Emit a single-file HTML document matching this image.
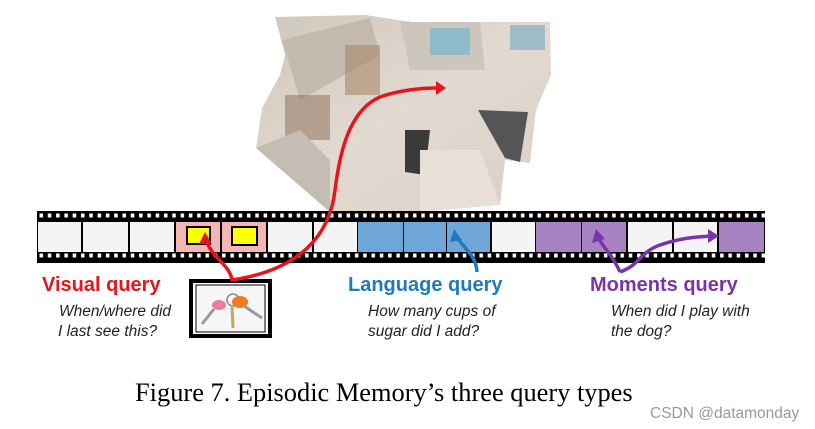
<!DOCTYPE html>
<html><head><meta charset="utf-8"><style>
html,body{margin:0;padding:0;background:#fff;width:815px;height:429px;overflow:hidden}
svg{display:block}
</style></head><body>
<svg width="815" height="429" viewBox="0 0 815 429" xmlns="http://www.w3.org/2000/svg">
<defs>
<pattern id="holes" x="37" y="0" width="8.3" height="10" patternUnits="userSpaceOnUse">
<rect x="2.5" y="3.5" width="3.5" height="4" fill="#fff"/>
</pattern>
<linearGradient id="hg" x1="0" y1="0" x2="1" y2="1">
<stop offset="0" stop-color="#cfc6bc"/><stop offset="0.5" stop-color="#e2dad0"/><stop offset="1" stop-color="#d9d0c6"/>
</linearGradient>
</defs>
<!-- house -->
<polygon points="275,17 365,15 412,22 550,22 551,75 536,110 530,163 505,160 500,205 470,205 420,212 330,212 256,148 262,108 280,75 285,55" fill="url(#hg)"/>
<polygon points="282,40 370,18 380,55 300,100" fill="#c4b9ae"/>
<polygon points="345,45 380,45 380,95 345,95" fill="#a8896a" opacity="0.6"/>
<polygon points="285,95 330,95 330,140 285,140" fill="#8a6a55" opacity="0.5"/>
<polygon points="400,22 480,22 485,70 410,70" fill="#cdc6bc"/>
<polygon points="430,28 470,28 470,55 430,55" fill="#8fbccb"/>
<polygon points="510,25 545,25 545,50 510,50" fill="#a0bcc8"/>
<polygon points="478,110 528,112 520,162 505,158" fill="#555557"/>
<polygon points="405,130 430,130 425,175 405,172" fill="#3a3a3a"/>
<polygon points="256,148 300,130 330,160 330,212" fill="#c4bdb4"/>
<polygon points="420,150 480,150 500,205 420,212" fill="#e8e0d6"/>
<!-- film strip -->
<rect x="37" y="211" width="728" height="52" fill="#000"/>
<rect x="37" y="211" width="728" height="11" fill="url(#holes)"/>
<rect x="37" y="252" width="728" height="11" fill="url(#holes)"/>
<g stroke="none">
<rect x="38" y="222" width="43" height="30" fill="#f4f4f4"/>
<rect x="83" y="222" width="45" height="30" fill="#f4f4f4"/>
<rect x="130" y="222" width="44" height="30" fill="#f4f4f4"/>
<rect x="176" y="222" width="44" height="30" fill="#f4b5b5"/>
<rect x="222" y="222" width="44" height="30" fill="#f4b5b5"/>
<rect x="268" y="222" width="44" height="30" fill="#f4f4f4"/>
<rect x="314" y="222" width="43" height="30" fill="#f4f4f4"/>
<rect x="358" y="222" width="45" height="30" fill="#6ea8d8"/>
<rect x="404" y="222" width="42" height="30" fill="#6ea8d8"/>
<rect x="447" y="222" width="43" height="30" fill="#6ea8d8"/>
<rect x="492" y="222" width="43" height="30" fill="#f4f4f4"/>
<rect x="536" y="222" width="45" height="30" fill="#a883c4"/>
<rect x="582" y="222" width="44" height="30" fill="#a883c4"/>
<rect x="628" y="222" width="44" height="30" fill="#f4f4f4"/>
<rect x="674" y="222" width="43" height="30" fill="#f4f4f4"/>
<rect x="719" y="222" width="45" height="30" fill="#a883c4"/>
</g>
<rect x="187" y="227" width="23" height="17" fill="#ffff00" stroke="#000" stroke-width="2"/>
<rect x="232" y="227" width="25" height="18" fill="#ffff00" stroke="#000" stroke-width="2"/>
<!-- keys box -->
<rect x="191" y="281" width="79" height="55" fill="#fff" stroke="#000" stroke-width="4"/>
<rect x="196" y="285" width="69" height="47" fill="#f6f6f6" stroke="#000" stroke-width="1"/>
<circle cx="233" cy="300" r="6" fill="none" stroke="#888" stroke-width="1.5"/>
<ellipse cx="219" cy="305" rx="7" ry="5" fill="#e87ea0"/>
<ellipse cx="240" cy="302" rx="8" ry="6" fill="#f07a20"/>
<line x1="214" y1="309" x2="202" y2="324" stroke="#999" stroke-width="3"/>
<line x1="244" y1="306" x2="262" y2="318" stroke="#999" stroke-width="3"/>
<line x1="232" y1="307" x2="233" y2="328" stroke="#c9a64f" stroke-width="3"/>
<!-- red arrows -->
<g fill="none" stroke="#e8141b" stroke-width="3.5" stroke-linecap="round">
<path d="M232,280 C230,265 212,258 206,240"/>
<path d="M232,280 C300,270 330,235 335,190 C340,150 350,110 380,97 C400,90 420,88 438,88"/>
</g>
<polygon points="199,244 205,232 212,244" fill="#e8141b"/>
<polygon points="436,81 446,88 436,95" fill="#e8141b"/>
<!-- blue arrow -->
<path d="M477,272 C476,255 465,250 456,236" fill="none" stroke="#1d7bbf" stroke-width="3.5"/>
<polygon points="450,242 454,229 462,240" fill="#1d7bbf"/>
<!-- purple arrows -->
<g fill="none" stroke="#7a34a8" stroke-width="3.5">
<path d="M620,272 C615,260 606,250 598,238"/>
<path d="M620,272 C640,265 640,252 660,245 C680,238 695,237 712,236"/>
</g>
<polygon points="592,243 596,229 605,239" fill="#7a34a8"/>
<polygon points="708,229 719,236 708,243" fill="#7a34a8"/>
<!-- labels -->
<g font-family="Liberation Sans, sans-serif" font-weight="bold" font-size="20">
<text x="42" y="291" fill="#e8141b">Visual query</text>
<text x="348" y="291" fill="#1d7bbf">Language query</text>
<text x="590" y="291" fill="#7a34a8">Moments query</text>
</g>
<g font-family="Liberation Sans, sans-serif" font-style="italic" font-size="15.5" fill="#222">
<text x="59" y="316">When/where did</text>
<text x="58" y="336">I last see this?</text>
<text x="368" y="316">How many cups of</text>
<text x="368" y="336">sugar did I add?</text>
<text x="611" y="316">When did I play with</text>
<text x="611" y="336">the dog?</text>
</g>
<text x="135" y="401" font-family="Liberation Serif, serif" font-size="26.4" fill="#000">Figure 7. Episodic Memory’s three query types</text>
<text x="650" y="418" font-family="Liberation Sans, sans-serif" font-size="15.5" fill="#999">CSDN @datamonday</text>
</svg>
</body></html>
